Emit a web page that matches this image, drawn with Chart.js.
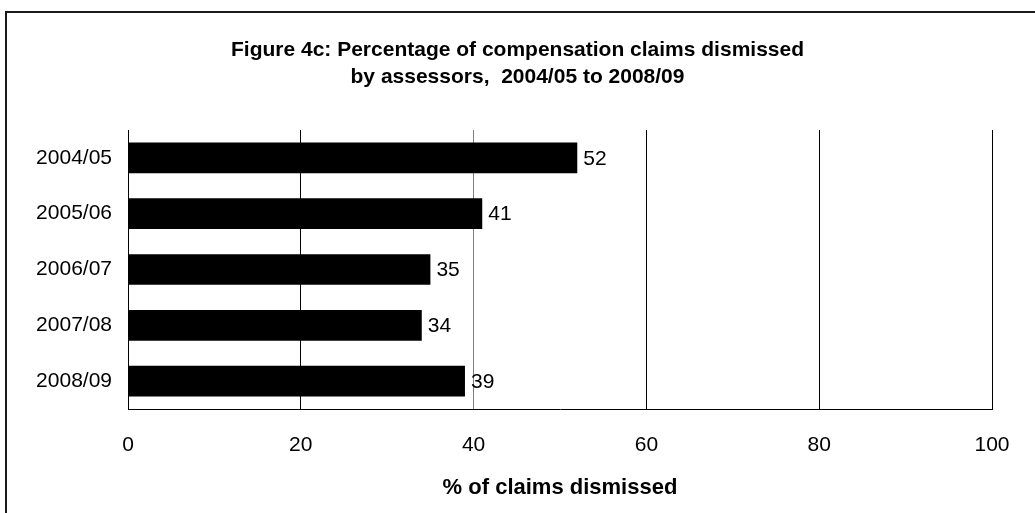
<!DOCTYPE html>
<html>
<head>
<meta charset="utf-8">
<title>Figure 4c</title>
<script src="https://cdn.jsdelivr.net/npm/chart.js@4"></script>
<style>
    body { margin: 0; background: #fff; }
    #wrap { width: 1035px; height: 513px; }
</style>
</head>
<body>
<div id="wrap"><canvas id="barChart" width="1035" height="513"></canvas></div>
<script>
// datos de la grafica
const years = ['2004/05', '2005/06', '2006/07', '2007/08', '2008/09'];
const dismissedPct = [52, 41, 35, 34, 39];
const xTicks = [0, 20, 40, 60, 80, 100];
const titleLines = ['Figure 4c: Percentage of compensation claims dismissed', 'by assessors,  2004/05 to 2008/09'];
const xAxisTitle = '% of claims dismissed';

const FONT = '"Liberation Sans", Arial, sans-serif';

// marco exterior y titulo de dos lineas
const framePlugin = {
    id: 'frame',
    beforeDraw(chart) {
        const ctx = chart.ctx;
        ctx.save();
        ctx.fillStyle = '#fff';
        ctx.fillRect(0, 0, chart.width, chart.height);
        ctx.strokeStyle = '#1a1a1a';
        ctx.lineWidth = 2;
        ctx.strokeRect(6, 12, 1200, 1200);

        ctx.fillStyle = '#000';
        ctx.font = 'bold 21px ' + FONT;
        ctx.textAlign = 'center';
        ctx.textBaseline = 'middle';
        const cx = chart.width / 2;
        titleLines.forEach((line, i) => {
            ctx.fillText(line, cx, 50 + i * 27);
        });
        ctx.restore();
    }
};

// etiquetas de valor a la derecha de cada barra
const valueLabels = {
    id: 'valueLabels',
    afterDatasetsDraw(chart) {
        const ctx = chart.ctx;
        const meta = chart.getDatasetMeta(0);
        ctx.save();
        ctx.font = '21px ' + FONT;
        ctx.fillStyle = '#000';
        ctx.textAlign = 'left';
        ctx.textBaseline = 'middle';
        meta.data.forEach((bar, i) => {
            ctx.fillText(String(dismissedPct[i]), bar.x + 6, bar.y + 1);
        });
        ctx.restore();
    }
};

new Chart(document.getElementById('barChart'), {
    type: 'bar',
    data: {
        labels: years,
        datasets: [{
            data: dismissedPct,
            backgroundColor: '#000',
            borderWidth: 0,
            barPercentage: 0.55,
            categoryPercentage: 1
        }]
    },
    options: {
        indexAxis: 'y',
        responsive: false,
        animation: false,
        layout: {
            padding: { left: 0, right: 43, top: 130, bottom: 0 }
        },
        scales: {
            x: {
                min: 0,
                max: 100,
                afterBuildTicks(scale) {
                    scale.ticks = xTicks.map(v => ({ value: v }));
                },
                afterFit(scale) {
                    scale.height = 104;
                },
                grid: {
                    drawTicks: false,
                    lineWidth: 1,
                    color: ctx => (ctx.tick && ctx.tick.value === 40 ? '#808080' : '#000')
                },
                border: { display: true, color: '#000', width: 1 },
                ticks: {
                    padding: 24,
                    color: '#000',
                    font: { family: FONT, size: 21 }
                },
                title: {
                    display: true,
                    text: xAxisTitle,
                    color: '#000',
                    padding: { top: 12, bottom: 12 },
                    font: { family: FONT, size: 22, weight: 'bold' }
                }
            },
            y: {
                afterFit(scale) {
                    scale.width = 128;
                },
                grid: { display: false, drawTicks: false },
                border: { display: true, color: '#000', width: 1 },
                ticks: {
                    padding: 16,
                    color: '#000',
                    font: { family: FONT, size: 21 }
                }
            }
        },
        plugins: {
            legend: { display: false },
            tooltip: { enabled: false },
            title: { display: false }
        }
    },
    plugins: [framePlugin, valueLabels]
});
</script>
</body>
</html>
